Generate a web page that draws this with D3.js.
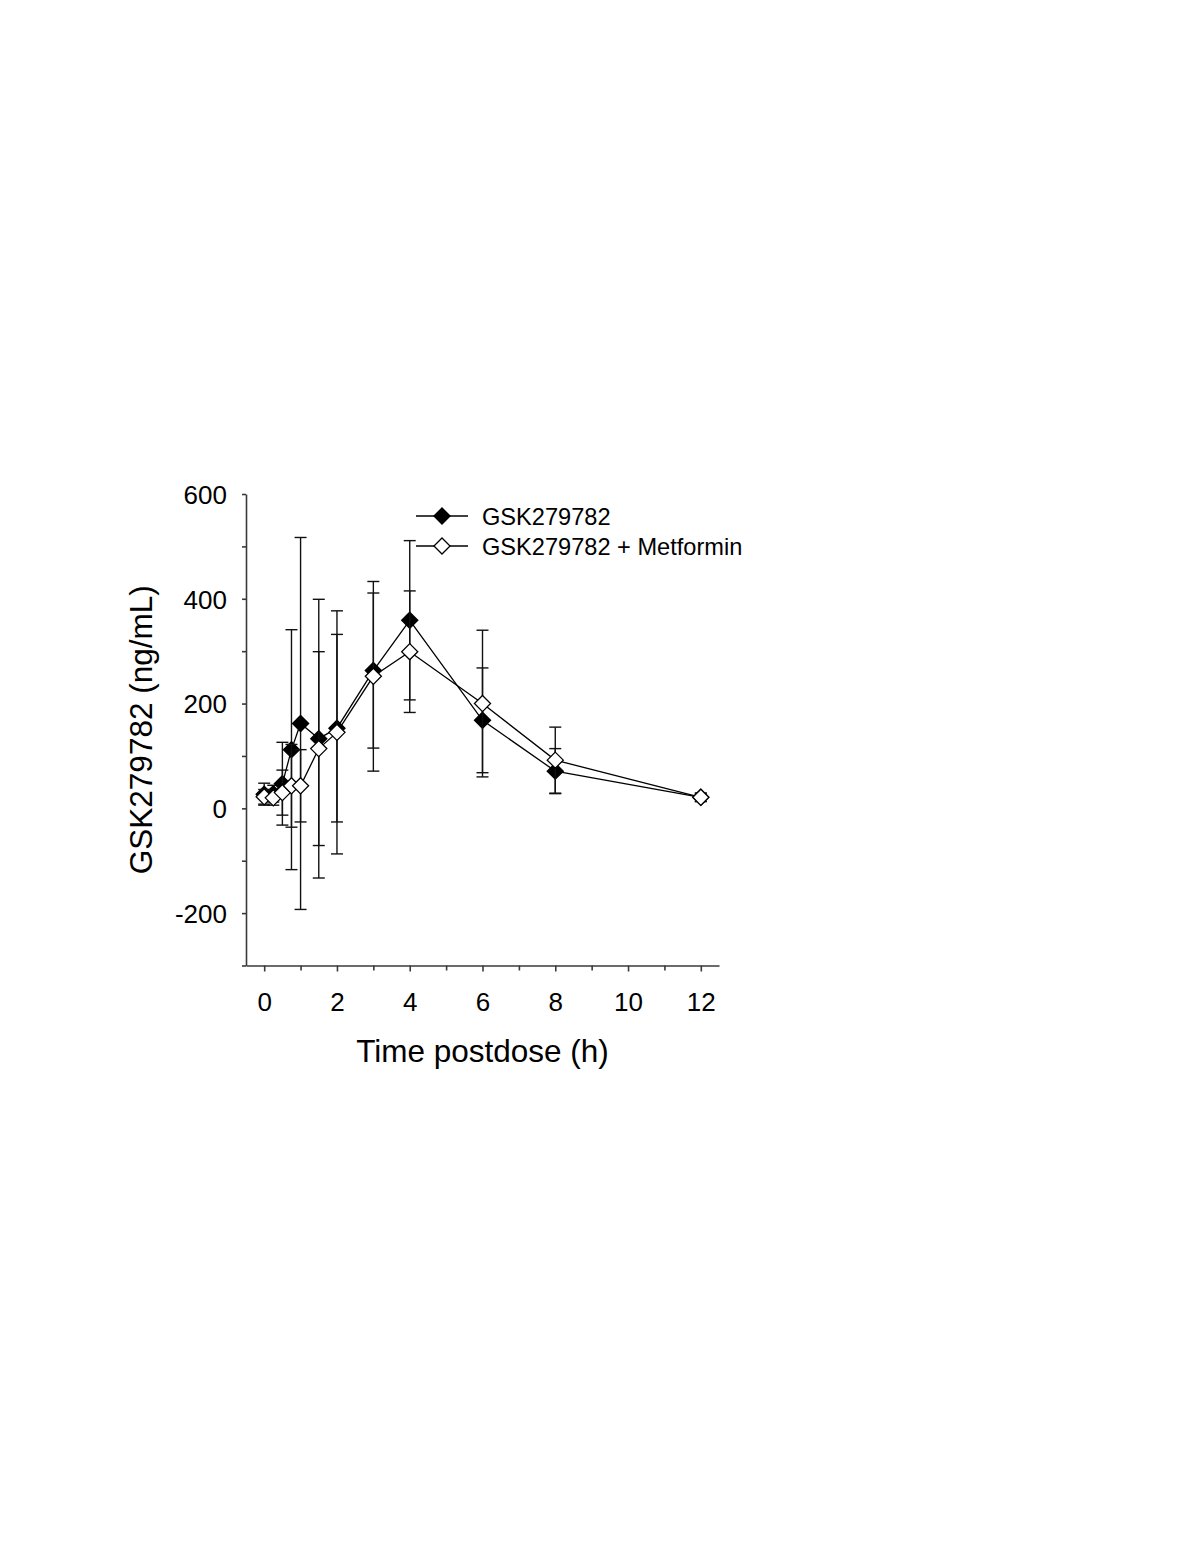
<!DOCTYPE html>
<html>
<head>
<meta charset="utf-8">
<script src="https://cdn.jsdelivr.net/npm/d3@7"></script>
<style>
  html, body { margin: 0; padding: 0; background: #fff; }
  svg { display: block; }
  text { font-family: Arial, "Liberation Sans", sans-serif; fill: #000; }
</style>
</head>
<body>
<svg id="chart" width="1200" height="1553"></svg>
<script>
// ---- data ----
const times = [0, 0.25, 0.5, 0.75, 1, 1.5, 2, 3, 4, 6, 8, 12];
const gskMean = [27, 28, 47, 112, 162, 133, 153, 263, 359, 168, 71, 21];
const gskSD   = [21, 16, 79, 229, 355, 266, 179, 148, 152, 100, 43, 8];
const metMean = [22, 20, 30, 43, 43, 114, 145, 252, 299, 200, 92, 21];
const metSD   = [14, 14, 43, 79, 69, 185, 232, 181, 116, 140, 63, 8];
const seriesNames = ["GSK279782", "GSK279782 + Metformin"];
const xTicks = [0, 2, 4, 6, 8, 10, 12];
const xMinorTicks = [1, 3, 5, 7, 9, 11];
const yTicks = [-200, 0, 200, 400, 600];
const yMinorTicks = [-300, -100, 100, 300, 500];
const xTitle = "Time postdose (h)";
const yTitle = "GSK279782 (ng/mL)";

// ---- layout ----
const svg = d3.select("#chart");
const x = d3.scaleLinear().domain([-0.5, 12.5]).range([246, 719]);
const y = d3.scaleLinear().domain([-300, 600]).range([965.5, 494]);
const axisColor = "#3a3a3a";
const fmt = d => String(d);

// axes
const gx = svg.append("g").attr("transform", `translate(0,${y(-300)})`)
  .call(d3.axisBottom(x).tickValues(xTicks).tickSize(6).tickSizeOuter(0).tickPadding(21).tickFormat(fmt));
const gxm = svg.append("g").attr("transform", `translate(0,${y(-300)})`)
  .call(d3.axisBottom(x).tickValues(xMinorTicks).tickSize(5).tickSizeOuter(0).tickFormat(""));
gxm.select(".domain").remove();
const gy = svg.append("g").attr("transform", `translate(${x(-0.5)},0)`)
  .call(d3.axisLeft(y).tickValues(yTicks).tickSize(4).tickSizeOuter(0).tickPadding(15).tickFormat(fmt));
const gym = svg.append("g").attr("transform", `translate(${x(-0.5)},0)`)
  .call(d3.axisLeft(y).tickValues(yMinorTicks).tickSize(4).tickSizeOuter(0).tickFormat(""));
gym.select(".domain").remove();
[gx, gxm, gy, gym].forEach(g => {
  g.selectAll("path, line").attr("stroke", axisColor).attr("stroke-width", 1.6);
  g.selectAll("text").style("font-size", "26px").style("font-family", "Arial, 'Liberation Sans', sans-serif").attr("fill", "#000");
});
gy.selectAll("text").attr("dy", "0.36em");

// titles
svg.append("text").attr("x", (x(-0.5) + x(12.5)) / 2).attr("y", 1062)
  .attr("text-anchor", "middle").style("font-size", "31.5px").text(xTitle);
svg.append("text").attr("transform", `translate(152,${(y(600) + y(-300)) / 2}) rotate(-90)`)
  .attr("text-anchor", "middle").style("font-size", "31.5px").text(yTitle);

// series
const series = [
  { name: seriesNames[0], mean: gskMean, sd: gskSD, fill: "#000" },
  { name: seriesNames[1], mean: metMean, sd: metSD, fill: "#fff" }
];
const diamond = d3.symbol().type(d3.symbolDiamond2).size(165);
const line = d3.line().x(d => x(d.t)).y(d => y(d.v));

series.forEach(s => {
  const pts = times.map((t, i) => ({ t, v: s.mean[i], sd: s.sd[i] }));
  const g = svg.append("g");
  const eb = g.selectAll("g.eb").data(pts).enter().append("g").attr("class", "eb");
  eb.append("line").attr("x1", d => x(d.t)).attr("x2", d => x(d.t))
    .attr("y1", d => y(d.v - d.sd)).attr("y2", d => y(d.v + d.sd))
    .attr("stroke", "#111").attr("stroke-width", 1.4);
  eb.append("line").attr("x1", d => x(d.t) - 6).attr("x2", d => x(d.t) + 6)
    .attr("y1", d => y(d.v + d.sd)).attr("y2", d => y(d.v + d.sd))
    .attr("stroke", "#111").attr("stroke-width", 1.4);
  eb.append("line").attr("x1", d => x(d.t) - 6).attr("x2", d => x(d.t) + 6)
    .attr("y1", d => y(d.v - d.sd)).attr("y2", d => y(d.v - d.sd))
    .attr("stroke", "#111").attr("stroke-width", 1.4);
  s.pts = pts;
  s.g = g;
});
series.forEach(s => {
  s.g.append("path").datum(s.pts).attr("d", line).attr("fill", "none")
    .attr("stroke", "#000").attr("stroke-width", 1.3);
});
series.forEach(s => {
  s.g.selectAll("path.m").data(s.pts).enter().append("path").attr("class", "m")
    .attr("d", diamond).attr("transform", d => `translate(${x(d.t)},${y(d.v)})`)
    .attr("fill", s.fill).attr("stroke", "#000").attr("stroke-width", 1.3);
});

// legend
const leg = svg.append("g");
series.forEach((s, i) => {
  const ly = 516 + i * 30;
  leg.append("line").attr("x1", 416).attr("x2", 468).attr("y1", ly).attr("y2", ly)
    .attr("stroke", "#000").attr("stroke-width", 1.3);
  leg.append("path").attr("d", diamond).attr("transform", `translate(442,${ly})`)
    .attr("fill", s.fill).attr("stroke", "#000").attr("stroke-width", 1.3);
  leg.append("text").attr("x", 482).attr("y", ly + 8.5).style("font-size", "23.6px").text(s.name);
});
</script>
</body>
</html>
